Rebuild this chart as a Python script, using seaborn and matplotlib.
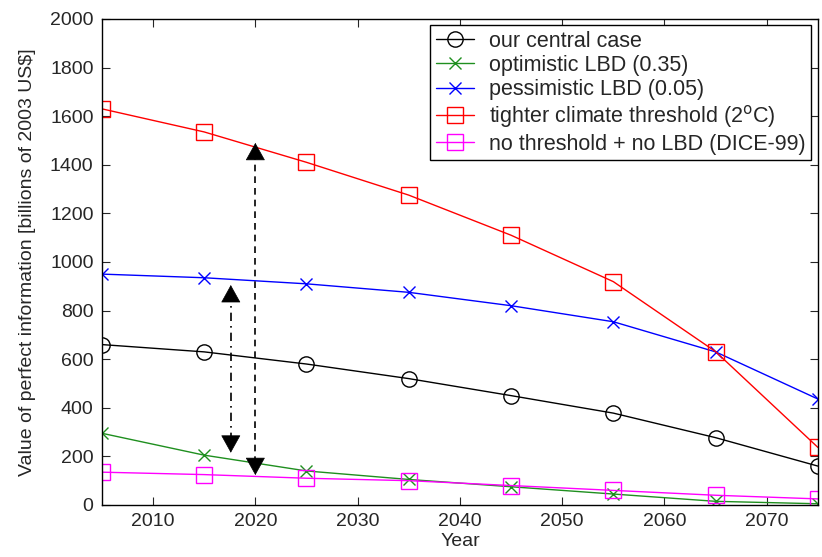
import matplotlib
matplotlib.use("Agg")
import matplotlib.pyplot as plt
import seaborn as sns
import pandas as pd

years = [2005, 2015, 2025, 2035, 2045, 2055, 2065, 2075]
central = [660, 630, 580, 520, 450, 378, 277, 160]
optimistic = [295, 205, 140, 105, 75, 45, 15, 5]
pessimistic = [950, 935, 910, 875, 820, 754, 630, 436]
tighter = [1630, 1535, 1410, 1275, 1110, 919, 631, 237]
no_threshold = [135, 125, 110, 100, 80, 60, 40, 25]

labels = ["our central case", "optimistic LBD (0.35)", "pessimistic LBD (0.05)",
          r"tighter climate threshold (2$^{\mathrm{o}}$C)", "no threshold + no LBD (DICE-99)"]
series = [central, optimistic, pessimistic, tighter, no_threshold]
colors = ["black", "#1f8f1f", "blue", "red", "magenta"]
markers = ["o", "x", "x", "s", "s"]

# double-headed arrows: (x, low tip, high tip, dash pattern)
arrow_x = [2020, 2017.6]
arrow_low = [123, 215]
arrow_high = [1490, 905]
arrow_dash = [(0, (4, 3)), (0, (5, 3, 1, 3))]

sns.set_style("ticks")
plt.rcParams['font.family'] = ['Liberation Sans', 'DejaVu Sans']

fig = plt.figure(figsize=(8.22, 5.57), dpi=100)
ax = fig.add_axes([0.124, 0.0934, 0.871, 0.8726])

for lab, vals, c, m in zip(labels, series, colors, markers):
    df = pd.DataFrame({"Year": years, "value": vals})
    sns.lineplot(data=df, x="Year", y="value", ax=ax, color=c, marker=m,
                 markersize=11 if m != "x" else 8, markerfacecolor="none",
                 markeredgecolor=c, markeredgewidth=1.0, linewidth=1.0, label=lab)

# arrows: dashed shaft + solid filled heads
head_len = 50  # data units (~12 px)
astyle = "-|>,head_length=0.45,head_width=0.25"
for xa, lo, hi, ds in zip(arrow_x, arrow_low, arrow_high, arrow_dash):
    ax.plot([xa, xa], [lo + head_len, hi - head_len], color="black", lw=1.2,
            linestyle=ds, label="_nolegend_")
    ax.annotate("", xy=(xa, hi), xytext=(xa, hi - head_len),
                arrowprops=dict(arrowstyle=astyle, color="black", lw=0.5,
                                mutation_scale=26, shrinkA=0, shrinkB=0))
    ax.annotate("", xy=(xa, lo), xytext=(xa, lo + head_len),
                arrowprops=dict(arrowstyle=astyle, color="black", lw=0.5,
                                mutation_scale=26, shrinkA=0, shrinkB=0))

ax.set_xlim(2005, 2075)
ax.set_ylim(0, 2000)
ax.set_xticks([2010, 2020, 2030, 2040, 2050, 2060, 2070])
ax.set_yticks(range(0, 2001, 200))
ax.tick_params(direction="in", top=True, right=True, labelsize=14, length=6, width=0.8, pad=6)
for s in ax.spines.values():
    s.set_visible(True)
    s.set_linewidth(1.0)
    s.set_color("black")
ax.set_xlabel("Year", fontsize=14, labelpad=2)
ax.set_ylabel(r"Value of perfect information [billions of 2003 US\$]", fontsize=14, labelpad=10)

leg = ax.legend(loc="upper right", fontsize=15.5, frameon=True, fancybox=False,
                edgecolor="black", handlelength=1.8, borderaxespad=0.3,
                labelspacing=0.15, borderpad=0.25, handletextpad=0.7)
leg.get_frame().set_linewidth(1.0)
leg.get_frame().set_alpha(1)

fig.savefig("out.png", dpi=100)
